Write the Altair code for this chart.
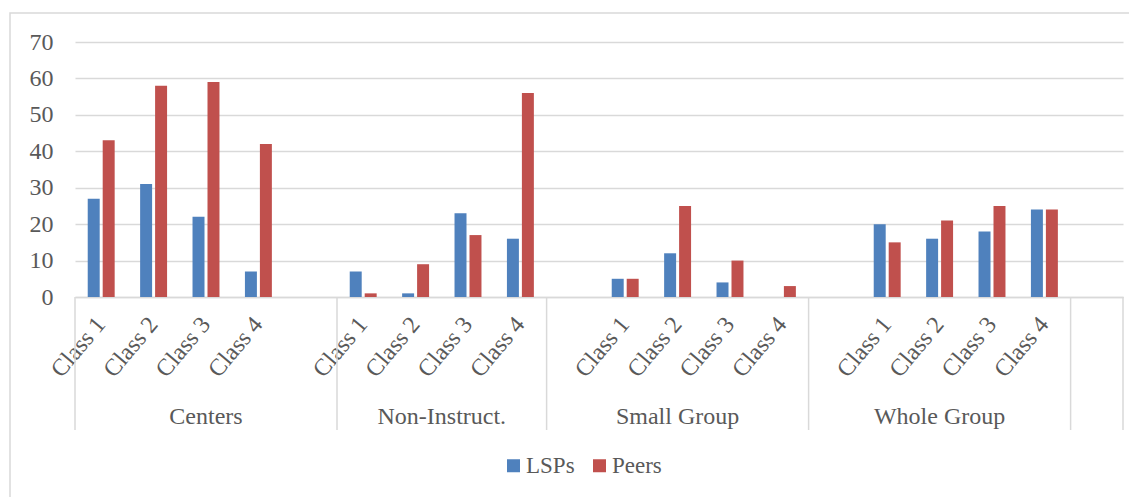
import altair as alt
import pandas as pd

# ---- data ----
groups = ["Centers", "Non-Instruct.", "Small Group", "Whole Group"]
classes = ["Class 1", "Class 2", "Class 3", "Class 4"]
series = ["LSPs", "Peers"]
colors = ["#4F81BD", "#C0504D"]

lsps_values = [27, 31, 22, 7, 7, 1, 23, 16, 5, 12, 4, 0, 20, 16, 18, 24]
peers_values = [43, 58, 59, 42, 1, 9, 17, 56, 5, 25, 10, 3, 15, 21, 25, 24]

# category axis layout as in the source sheet (blank rows included)
slot_groups = ["Centers"] * 5 + ["Non-Instruct."] * 4 + ["Small Group"] * 5 + ["Whole Group"] * 5 + [""]
slot_classes = classes + [""] + classes + [""] + classes + [""] + classes + [""]

# ---- build tables ----
keys = [f"{i:02d}|{c}" for i, c in enumerate(slot_classes)]
rows = []
k = 0
for key, c in zip(keys, slot_classes):
    if c:
        rows.append({"slot": key, "series": "LSPs", "value": lsps_values[k]})
        rows.append({"slot": key, "series": "Peers", "value": peers_values[k]})
        k += 1
bars_df = pd.DataFrame(rows)

n = len(keys)
bounds = [0]
for i in range(1, n):
    if slot_groups[i] != slot_groups[i - 1]:
        bounds.append(i)
bounds.append(n)
div_df = pd.DataFrame({"pos": bounds})

lab_rows = []
for a, b in zip(bounds[:-1], bounds[1:]):
    g = slot_groups[a]
    if g:
        lab_rows.append({"pos": (a + b) / 2, "group": g})
lab_df = pd.DataFrame(lab_rows)

FONT = "Liberation Serif"
TXT = "#595959"
GRID = "#d9d9d9"
W, H = 1048, 255

bars = alt.Chart(bars_df).mark_bar().encode(
    x=alt.X("slot:N", scale=alt.Scale(domain=keys, paddingInner=0, paddingOuter=0),
            axis=alt.Axis(title=None, labelExpr="split(datum.label, '|')[1]",
                          labelAngle=-50, labelAlign="right", labelBaseline="middle",
                          labelPadding=23, ticks=False, tickSize=0, domain=True,
                          domainColor=GRID, domainWidth=1.5, grid=False,
                          labelFont=FONT, labelFontSize=24, labelColor=TXT,
                          labelOverlap=False, labelLimit=0)),
    xOffset=alt.XOffset("series:N", scale=alt.Scale(domain=series, paddingInner=0.2, paddingOuter=0.85)),
    y=alt.Y("value:Q", scale=alt.Scale(domain=[0, 70], nice=False),
            axis=alt.Axis(title=None, values=list(range(0, 71, 10)), domain=False, ticks=False,
                          labelPadding=22, labelFont=FONT, labelFontSize=24, labelColor=TXT,
                          grid=True, gridColor=GRID, gridWidth=1.5)),
    color=alt.Color("series:N", scale=alt.Scale(domain=series, range=colors),
                    legend=alt.Legend(title=None, orient="none", direction="horizontal",
                                      legendX=427, legendY=412, padding=0,
                                      symbolType="square", symbolSize=169, symbolStrokeWidth=0,
                                      labelFont=FONT, labelFontSize=23, labelColor=TXT,
                                      labelOffset=1, columnPadding=13)),
)

dividers = alt.Chart(div_df).mark_rule(color=GRID, strokeWidth=1.5).encode(
    x=alt.X("pos:Q", scale=alt.Scale(domain=[0, n], nice=False, zero=False), axis=None),
    y=alt.value(H),
    y2=alt.value(H + 133),
)

glabels = alt.Chart(lab_df).mark_text(font=FONT, fontSize=24, color=TXT, baseline="alphabetic").encode(
    x=alt.X("pos:Q", scale=alt.Scale(domain=[0, n], nice=False, zero=False), axis=None),
    y=alt.value(382),
    text="group:N",
)

border = alt.Chart(alt.Data(values=[{}])).mark_rect(fill=None, stroke=GRID, strokeWidth=1.5).encode(
    x=alt.value(-65), x2=alt.value(1100), y=alt.value(-29), y2=alt.value(500),
)

chart = alt.layer(border, bars, dividers, glabels).resolve_scale(x="independent").properties(
    width=W, height=H,
    autosize=alt.AutoSizeParams(type="none"),
    padding={"left": 67, "top": 34, "right": 6, "bottom": 200},
).configure(background="white", font=FONT).configure_view(stroke=None).configure_axis(
    labelFont=FONT
).configure_legend(labelFont=FONT).configure_text(font=FONT)

chart.save("out.html", embed_options={"renderer": "svg", "actions": False})
